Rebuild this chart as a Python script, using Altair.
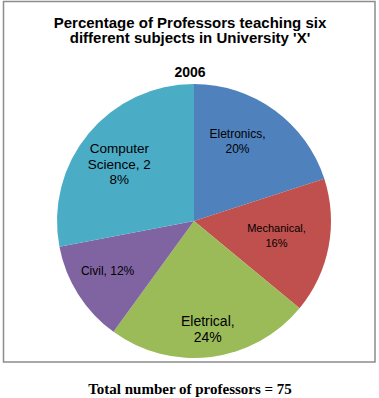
import altair as alt
import pandas as pd

# ---- data ----
subjects = ["Eletronics", "Mechanical", "Eletrical", "Civil", "Computer Science"]
percent = [20, 16, 24, 12, 28]
labels = ["Eletronics,\n20%", "Mechanical,\n16%", "Eletrical,\n24%", "Civil, 12%", "Computer\nScience, 2\n8%"]
colors = ["#4F81BD", "#C0504D", "#9BBB59", "#8064A2", "#4BACC6"]
title_lines = ["Percentage of Professors teaching six", "different subjects in University 'X'"]
subtitle = "2006"
footer = "Total number of professors = 75"

df = pd.DataFrame({
    "subject": subjects,
    "value": percent,
    "label": labels,
    "idx": list(range(len(subjects))),
})

# ---- label styling (Excel-like placements) ----
label_style = {
    "Eletronics": dict(size=12, r=91, dx=-10, dy=-6),
    "Mechanical": dict(size=11, r=84, dx=0, dy=0),
    "Eletrical": dict(size=14, r=110, dx=0, dy=0),
    "Civil": dict(size=12, r=100, dx=-2, dy=-4),
    "Computer Science": dict(size=13.5, r=93, dx=-3, dy=3),
}
LINE_H = 15.5


def style_str(key, default):
    e = str(default)
    for name, st in label_style.items():
        e = f"datum.subject == '{name}' ? {st[key]} : ({e})"
    return e


def style_expr(key, default):
    return alt.expr(style_str(key, default))


# vertically centre multi-line labels
dy_expr = alt.expr(f"({style_str('dy', 0)}) - (length(split(datum.label, '\\n')) - 1) * {LINE_H / 2}")

CX, CY, R = 194, 221, 137
FONT = "Liberation Sans"

base = alt.Chart(df)

pie = base.mark_arc(radius=R).encode(
    theta=alt.Theta("value:Q", stack=True),
    color=alt.Color("subject:N", scale=alt.Scale(domain=subjects, range=colors), legend=None),
    order=alt.Order("idx:Q"),
    x=alt.value(CX),
    y=alt.value(CY),
)

text = base.mark_text(
    font=FONT,
    color="#000000",
    align="center",
    baseline="middle",
    lineBreak="\n",
    radius=style_expr("r", 95),
    fontSize=style_expr("size", 12),
    lineHeight=LINE_H,
    dx=style_expr("dx", 0),
    dy=dy_expr,
).encode(
    theta=alt.Theta("value:Q", stack=True),
    order=alt.Order("idx:Q"),
    text=alt.Text("label:N"),
    x=alt.value(CX),
    y=alt.value(CY),
)

one = pd.DataFrame({"a": [0]})

frame = alt.Chart(one).mark_rect(fill=None, stroke="#8c8c8c", strokeWidth=1.5).encode(
    x=alt.value(3.5), x2=alt.value(375), y=alt.value(1.5), y2=alt.value(362)
)

title1 = alt.Chart(one).mark_text(
    text=title_lines[0], font=FONT, fontSize=15, fontWeight="bold", align="center", baseline="alphabetic"
).encode(x=alt.value(190), y=alt.value(27.5))
title2 = alt.Chart(one).mark_text(
    text=title_lines[1], font=FONT, fontSize=15, fontWeight="bold", align="center", baseline="alphabetic"
).encode(x=alt.value(190), y=alt.value(43))
sub = alt.Chart(one).mark_text(
    text=subtitle, font=FONT, fontSize=14, fontWeight="bold", align="center", baseline="alphabetic"
).encode(x=alt.value(190), y=alt.value(77))
foot = alt.Chart(one).mark_text(
    text=footer, font="Liberation Serif", fontSize=15, fontWeight="bold", align="center", baseline="alphabetic"
).encode(x=alt.value(190), y=alt.value(394))

chart = alt.layer(frame, pie, text, title1, title2, sub, foot).properties(
    width=379, height=398, autosize=alt.AutoSizeParams(type="none"), padding=0,
    background="white",
).configure_view(stroke=None)

chart.save("out.html", embed_options={"renderer": "svg", "actions": False})
